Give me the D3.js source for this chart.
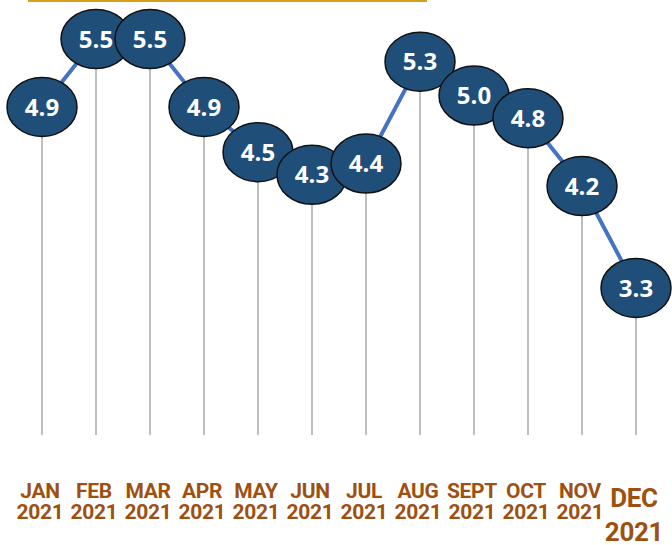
<!DOCTYPE html>
<html>
<head>
<meta charset="utf-8">
<script src="https://cdn.jsdelivr.net/npm/d3@7"></script>
<style>
  body { margin: 0; background: #fff; }
</style>
</head>
<body>
<div id="chart"></div>
<script>
// chart data
const months = ["JAN", "FEB", "MAR", "APR", "MAY", "JUN", "JUL", "AUG", "SEPT", "OCT", "NOV", "DEC"];
const years = ["2021", "2021", "2021", "2021", "2021", "2021", "2021", "2021", "2021", "2021", "2021", "2021"];
const values = [4.9, 5.5, 5.5, 4.9, 4.5, 4.3, 4.4, 5.3, 5.0, 4.8, 4.2, 3.3];

const width = 672, height = 545;

const svg = d3.select("#chart")
  .append("svg")
  .attr("width", width)
  .attr("height", height);

// x positions of the months
const x = d3.scalePoint()
  .domain(months)
  .range([42, 636]);

// y scale, lines drop down to the floor value
const y = d3.scaleLinear()
  .domain([2, 5.5])
  .range([435, 39]);

const data = months.map((m, i) => ({ month: m, year: years[i], value: values[i] }));

// golden rule at the top
svg.append("line")
  .attr("x1", 28).attr("x2", 427)
  .attr("y1", 1).attr("y2", 1)
  .attr("stroke", "#d4a017")
  .attr("stroke-width", 2);

// grey drop lines
svg.selectAll(".drop")
  .data(data)
  .join("line")
  .attr("class", "drop")
  .attr("x1", d => x(d.month))
  .attr("x2", d => x(d.month))
  .attr("y1", d => y(d.value))
  .attr("y2", y(2))
  .attr("stroke", "#bfbfbf")
  .attr("stroke-width", 2);

// connecting line
const line = d3.line()
  .x(d => x(d.month))
  .y(d => y(d.value));

svg.append("path")
  .datum(data)
  .attr("d", line)
  .attr("fill", "none")
  .attr("stroke", "#4472c4")
  .attr("stroke-width", 4);

// bubbles
const bubble = svg.selectAll(".bubble")
  .data(data)
  .join("g")
  .attr("class", "bubble")
  .attr("transform", d => `translate(${x(d.month)},${y(d.value)})`);

bubble.append("ellipse")
  .attr("rx", 35)
  .attr("ry", 29.5)
  .attr("fill", "#1f4e79")
  .attr("stroke", "#111")
  .attr("stroke-width", 1.5);

bubble.append("text")
  .attr("text-anchor", "middle")
  .attr("dy", "0.36em")
  .attr("fill", "#fff")
  .style("font-family", "'Open Sans', sans-serif")
  .style("font-weight", 700)
  .style("font-size", "24px")
  .text(d => d.value.toFixed(1));

// month labels
const last = data.length - 1;
const labels = svg.selectAll(".label")
  .data(data)
  .join("text")
  .attr("class", "label")
  .attr("text-anchor", "middle")
  .attr("fill", "#9e5010")
  .style("font-family", "Roboto, sans-serif")
  .style("font-weight", 700)
  .style("letter-spacing", "-0.3px")
  .style("font-size", (d, i) => i === last ? "26px" : "21px");

labels.append("tspan")
  .attr("x", d => x(d.month) - 2)
  .attr("y", (d, i) => i === last ? 507 : 498)
  .text(d => d.month);

labels.append("tspan")
  .attr("x", d => x(d.month) - 2)
  .attr("y", (d, i) => i === last ? 541 : 519)
  .text(d => d.year);
</script>
</body>
</html>
